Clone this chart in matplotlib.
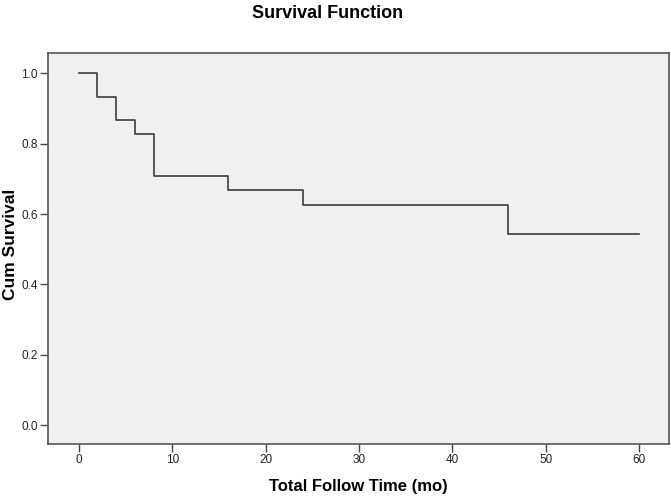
import matplotlib
matplotlib.use("Agg")
from matplotlib import pyplot as plt

plt.rcParams["font.family"] = ["Liberation Sans", "DejaVu Sans"]

# Kaplan-Meier steps
times = [0, 2, 4, 6, 8, 16, 24, 46, 60]
surv = [1.0, 0.933, 0.867, 0.827, 0.708, 0.667, 0.625, 0.542, 0.542]
x_ticks = [0, 10, 20, 30, 40, 50, 60]
y_ticks = [0.0, 0.2, 0.4, 0.6, 0.8, 1.0]

fig = plt.figure(figsize=(6.71, 4.98), dpi=100)
ax = fig.add_axes([0.0715, 0.1084, 0.9255, 0.7852])
ax.set_facecolor("#f0f0f0")

ax.step(times, surv, where="post", color="#3c3c3c", linewidth=1.2)

ax.set_xlim(-3.3, 63.2)
ax.set_ylim(-0.054, 1.058)
ax.set_xticks(x_ticks)
ax.set_yticks(y_ticks)
ax.set_yticklabels(["{:.1f}".format(v) for v in y_ticks])
ax.tick_params(axis="both", direction="out", length=6, width=1,
               color="#444444", labelcolor="#222222", labelsize=8.5, pad=1.5)

for s in ax.spines.values():
    s.set_color("#555555")
    s.set_linewidth(1.2)

ax.set_xlabel("Total Follow Time (mo)", fontsize=12, fontweight="bold",
              labelpad=9)
ax.set_ylabel("Cum Survival", fontsize=12.5, fontweight="bold")
ax.yaxis.set_label_coords(-0.048, 0.51)
fig.suptitle("Survival Function", x=0.488, y=0.99, fontsize=13,
             fontweight="bold")

plt.savefig("out.png", dpi=100)
